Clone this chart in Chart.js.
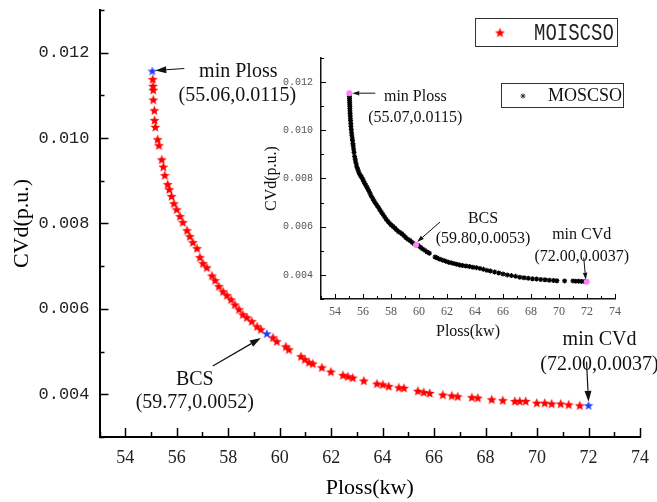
<!DOCTYPE html>
<html><head><meta charset="utf-8">
<script src="https://cdn.jsdelivr.net/npm/chart.js@4.4.0/dist/chart.umd.min.js"></script>
<style>
html,body{margin:0;padding:0;background:#fff;}
#wrap{position:relative;width:657px;height:502px;overflow:hidden;background:#fff;}
#main{position:absolute;left:0;top:0;}
#inset{position:absolute;left:240px;top:50px;}
</style></head><body>
<div id="wrap"><canvas id="main" width="657" height="502"></canvas><canvas id="inset" width="410" height="300"></canvas></div>
<script>
// ---------- DATA ----------
const mainX = [55.07,55.08,55.09,55.09,55.13,55.14,55.17,55.26,55.31,55.42,55.48,55.54,55.65,55.71,55.80,55.89,56.00,56.13,56.24,56.40,56.51,56.63,56.79,56.90,57.02,57.17,57.37,57.49,57.64,57.80,57.95,58.11,58.26,58.42,58.57,58.73,58.92,59.12,59.27,59.74,59.89,60.24,60.36,60.83,60.98,61.14,61.29,61.64,61.99,62.46,62.65,62.84,63.27,63.78,64.01,64.24,64.63,64.83,65.37,65.60,65.83,66.34,66.69,66.92,67.47,67.70,68.24,68.67,69.14,69.33,69.56,69.99,70.30,70.57,70.92,71.23,71.66];
const mainY = [0.01137,0.01121,0.01112,0.01089,0.01064,0.01041,0.01025,0.00996,0.00982,0.00949,0.00932,0.00912,0.00891,0.00879,0.00863,0.00846,0.00832,0.00816,0.00802,0.00783,0.00769,0.00755,0.00741,0.00720,0.00706,0.00696,0.00677,0.00666,0.00652,0.00640,0.00631,0.00621,0.00609,0.00598,0.00586,0.00579,0.00570,0.00558,0.00551,0.00532,0.00523,0.00511,0.00504,0.00488,0.00481,0.00474,0.00471,0.00462,0.00452,0.00444,0.00441,0.00438,0.00431,0.00424,0.00422,0.00418,0.00415,0.00414,0.00407,0.00404,0.00402,0.00398,0.00396,0.00394,0.00392,0.00391,0.00387,0.00385,0.00383,0.00383,0.00383,0.00379,0.00379,0.00377,0.00377,0.00375,0.00373];
const mainSpecialX = [55.05, 59.50, 72.00];
const mainSpecialY = [0.01156, 0.00541, 0.00373];
const mainSpecialText = [['min Ploss','(55.06,0.0115)'],['BCS','(59.77,0.0052)'],['min CVd','(72.00,0.0037)']];

const insetX = [55.03,55.03,55.04,55.04,55.05,55.05,55.06,55.06,55.07,55.08,55.09,55.10,55.11,55.13,55.14,55.16,55.18,55.20,55.23,55.25,55.28,55.30,55.33,55.36,55.40,55.44,55.48,55.53,55.58,55.64,55.70,55.77,55.84,55.90,55.98,56.05,56.12,56.20,56.28,56.36,56.44,56.52,56.60,56.70,56.80,56.90,57.00,57.10,57.20,57.32,57.42,57.54,57.66,57.78,57.90,58.02,58.15,58.28,58.40,58.52,58.65,58.78,58.92,59.05,59.20,59.35,59.50,59.65,59.95,60.10,60.25,60.42,60.58,60.74,61.15,61.30,61.50,61.70,61.90,62.10,62.30,62.50,62.70,62.90,63.10,63.35,63.60,63.85,64.10,64.35,64.60,64.85,65.10,65.40,65.70,66.00,66.30,66.60,66.90,67.20,67.50,67.80,68.10,68.40,68.70,69.00,69.30,69.60,69.85,70.40,71.00,71.20,71.40,71.60,71.80];
const insetY = [0.01148,0.01140,0.01132,0.01124,0.01116,0.01108,0.01099,0.01090,0.01080,0.01070,0.01060,0.01050,0.01040,0.01028,0.01016,0.01004,0.00992,0.00980,0.00968,0.00958,0.00945,0.00935,0.00922,0.00908,0.00892,0.00880,0.00868,0.00856,0.00845,0.00836,0.00826,0.00817,0.00810,0.00805,0.00797,0.00788,0.00780,0.00772,0.00764,0.00755,0.00746,0.00736,0.00726,0.00716,0.00706,0.00697,0.00688,0.00680,0.00670,0.00660,0.00651,0.00641,0.00631,0.00622,0.00614,0.00607,0.00601,0.00594,0.00587,0.00580,0.00576,0.00571,0.00563,0.00555,0.00548,0.00543,0.00535,0.00529,0.00522,0.00515,0.00508,0.00502,0.00495,0.00490,0.00474,0.00470,0.00465,0.00461,0.00457,0.00453,0.00450,0.00447,0.00444,0.00441,0.00439,0.00437,0.00435,0.00432,0.00430,0.00427,0.00423,0.00419,0.00416,0.00412,0.00408,0.00404,0.00400,0.00397,0.00394,0.00390,0.00388,0.00386,0.00384,0.00383,0.00381,0.00380,0.00378,0.00377,0.00376,0.00375,0.00375,0.00374,0.00374,0.00373,0.00373];
const insetSpecialX = [55.02, 59.79, 71.98];
const insetSpecialY = [0.01154, 0.00524, 0.00372];
const insetSpecialText = [['min Ploss','(55.07,0.0115)'],['BCS','(59.80,0.0053)'],['min CVd','(72.00,0.0037)']];

const xMin = 53, xMax = 74, xStep = 1;
const yMin = 0.003, yMax = 0.013, yStep = 0.001;
const mainLegendLabel = 'MOISCSO';
const insetLegendLabel = 'MOSCSO';

// ---------- STYLE HELPERS ----------
function makeStar(color, r, inner){
  const c = document.createElement('canvas');
  const s = Math.ceil(r*2+2); c.width = s; c.height = s;
  const g = c.getContext('2d');
  g.fillStyle = color; g.beginPath();
  for (let i=0;i<10;i++){
    const rr = (i%2===0)? r : inner;
    const a = -Math.PI/2 + i*Math.PI/5;
    const px = s/2 + rr*Math.cos(a), py = s/2 + rr*Math.sin(a);
    if(i===0) g.moveTo(px,py); else g.lineTo(px,py);
  }
  g.closePath(); g.fill();
  return c;
}
const redStar = makeStar('#ff0000', 5.2, 2.3);
const blueStar = makeStar('#1f3cff', 5, 2.1);
const pts = (xs, ys) => xs.map((x,i)=>({x:x, y:ys[i]}));

function arrow(ctx,x1,y1,x2,y2,hl,hw,lw){
  const a=Math.atan2(y2-y1,x2-x1);
  const bx=x2-hl*Math.cos(a), by=y2-hl*Math.sin(a);
  ctx.lineWidth=lw; ctx.beginPath(); ctx.moveTo(x1,y1); ctx.lineTo(bx,by); ctx.stroke();
  ctx.beginPath(); ctx.moveTo(x2,y2);
  ctx.lineTo(bx+hw/2*Math.sin(a), by-hw/2*Math.cos(a));
  ctx.lineTo(bx-hw/2*Math.sin(a), by+hw/2*Math.cos(a));
  ctx.closePath(); ctx.fill();
}
function inTicks(chart, maj, min, lw){
  const {ctx, chartArea:a, scales:{x,y}} = chart;
  ctx.save(); ctx.strokeStyle='#000'; ctx.lineWidth=lw;
  x.ticks.forEach(t=>{
    const p=Math.round(x.getPixelForValue(t.value))+0.5;
    const L=(Math.round(t.value)%2===0)?maj:min;
    ctx.beginPath(); ctx.moveTo(p,a.bottom); ctx.lineTo(p,a.bottom-L); ctx.stroke();
  });
  y.ticks.forEach(t=>{
    const p=Math.round(y.getPixelForValue(t.value))+0.5;
    const L=(Math.round(t.value*1000)%2===0)?maj:min;
    ctx.beginPath(); ctx.moveTo(a.left,p); ctx.lineTo(a.left+L,p); ctx.stroke();
  });
  ctx.restore();
}
function annotate(chart, dsIndex, texts, layout, font, hl, hw, lw){
  const ctx=chart.ctx; const meta=chart.getDatasetMeta(dsIndex);
  ctx.save(); ctx.fillStyle='#111'; ctx.strokeStyle='#111';
  ctx.font=font; ctx.textAlign='center'; ctx.textBaseline='middle';
  meta.data.forEach((el,i)=>{
    const L=layout[i]; const px=el.x, py=el.y;
    ctx.fillText(texts[i][0], px+L[0], py+L[1]);
    ctx.fillText(texts[i][1], px+L[2], py+L[3]);
    arrow(ctx, px+L[4], py+L[5], px+L[6], py+L[7], hl, hw, lw);
  });
  ctx.restore();
}
const tickCbX = v => (Math.round(v)%2===0 ? String(Math.round(v)) : '');
const tickCbY = v => { const k=Math.round(v*1000); return k%2===0 ? (k/1000).toFixed(3) : ''; };
const fitX = h => s => { s.height=h; s.paddingLeft=0; s.paddingRight=0; s.paddingTop=0; s.paddingBottom=0; };
const fitY = w => s => { s.width=w; s.paddingLeft=0; s.paddingRight=0; s.paddingTop=0; s.paddingBottom=0; };

// ---------- MAIN CHART ----------
const mainLayout = [
  [86,0, 85,24.5, 32,-3, 3,-1],
  [-72,46, -72,69, -54,32, -6,4],
  [11,-66, 11,-41, -2,-44, 0,-4]
];
const mainDecor = {
  id:'mainDecor',
  afterDraw(chart){
    inTicks(chart, 9, 5, 1.5);
    annotate(chart, 0, mainSpecialText, mainLayout, '20px "Liberation Serif"', 11, 7, 1.2);
    const ctx=chart.ctx; ctx.save();
    ctx.fillStyle='#fff'; ctx.fillRect(475,18,142,28);
    ctx.strokeStyle='#333'; ctx.lineWidth=1; ctx.strokeRect(475.5,18.5,142,28);
    ctx.drawImage(redStar, 500-redStar.width/2, 33-redStar.height/2);
    ctx.fillStyle='#222'; ctx.font='19px "Liberation Mono"'; ctx.textAlign='left'; ctx.textBaseline='middle';
    ctx.translate(534,33); ctx.scale(1,1.3); ctx.fillText(mainLegendLabel,0,0);
    ctx.restore();
  }
};
new Chart(document.getElementById('main'), {
  type:'scatter',
  data:{datasets:[
    {label:'special', data:pts(mainSpecialX, mainSpecialY), pointStyle:blueStar, pointRadius:5},
    {label:mainLegendLabel, data:pts(mainX, mainY), pointStyle:redStar, pointRadius:5}
  ]},
  options:{
    responsive:false, animation:false, devicePixelRatio:1,
    layout:{padding:{left:0,right:17,top:10,bottom:0}},
    plugins:{legend:{display:false}, tooltip:{enabled:false}},
    scales:{
      x:{type:'linear', min:xMin, max:xMax, afterFit:fitX(65),
        ticks:{stepSize:xStep, autoSkip:false, maxRotation:0, padding:10, color:'#222', font:{family:'Liberation Serif', size:18}, callback:tickCbX},
        grid:{display:false, drawTicks:false}, border:{display:true, color:'#000', width:2},
        title:{display:true, text:'Ploss(kw)', color:'#000', font:{family:'Liberation Serif', size:22}, padding:{top:0,bottom:1}}},
      y:{type:'linear', min:yMin, max:yMax, afterFit:fitY(99.5),
        ticks:{stepSize:yStep, autoSkip:false, padding:10, color:'#222', font:{family:'Liberation Mono', size:17}, callback:tickCbY},
        grid:{display:false, drawTicks:false}, border:{display:true, color:'#000', width:2},
        title:{display:true, text:'CVd(p.u.)', color:'#000', font:{family:'Liberation Serif', size:22}, padding:{top:9,bottom:0}}}
    }
  },
  plugins:[mainDecor]
});

// ---------- INSET CHART ----------
const insetLayout = [
  [66,4, 66,25, 26,0, 3,0],
  [67,-26, 67,-6, 24,-23, 1,-3],
  [-5,-47, -5,-25, -3,-24, -1,-2]
];
const insetDecor = {
  id:'insetDecor',
  afterDraw(chart){
    inTicks(chart, 5, 3, 1);
    annotate(chart, 0, insetSpecialText, insetLayout, '16px "Liberation Serif"', 7, 4.5, 1);
    const ctx=chart.ctx; ctx.save();
    ctx.fillStyle='#fff'; ctx.fillRect(261,33,122,24);
    ctx.strokeStyle='#333'; ctx.lineWidth=1; ctx.strokeRect(261.5,33.5,122,24);
    Chart.helpers.drawPoint(ctx, {pointStyle:'star', radius:2.5, borderWidth:1.2, rotation:0}, 283, 46);
    ctx.fillStyle='#111'; ctx.font='18px "Liberation Serif"'; ctx.textAlign='left'; ctx.textBaseline='middle';
    ctx.fillText(insetLegendLabel, 308, 46);
    ctx.restore();
  }
};
new Chart(document.getElementById('inset'), {
  type:'scatter',
  data:{datasets:[
    {label:'special', data:pts(insetSpecialX, insetSpecialY), pointStyle:'star', pointRadius:3, borderWidth:2, borderColor:'#ff80ff', backgroundColor:'#ff80ff'},
    {label:insetLegendLabel, data:pts(insetX, insetY), pointStyle:'star', pointRadius:2.5, borderWidth:1.2, borderColor:'#000', backgroundColor:'#000'}
  ]},
  options:{
    responsive:false, animation:false, devicePixelRatio:1,
    layout:{padding:{left:0,right:35,top:8,bottom:0}},
    plugins:{legend:{display:false}, tooltip:{enabled:false}},
    scales:{
      x:{type:'linear', min:xMin, max:xMax, afterFit:fitX(51),
        ticks:{stepSize:xStep, autoSkip:false, maxRotation:0, padding:6, color:'#555', font:{family:'Liberation Serif', size:12}, callback:tickCbX},
        grid:{display:false, drawTicks:false}, border:{display:true, color:'#111', width:1.5},
        title:{display:true, text:'Ploss(kw)', color:'#111', font:{family:'Liberation Serif', size:16}, padding:{top:0,bottom:9}}},
      y:{type:'linear', min:yMin, max:yMax, afterFit:fitY(81),
        ticks:{stepSize:yStep, autoSkip:false, padding:8, color:'#555', font:{family:'Liberation Mono', size:10}, callback:tickCbY},
        grid:{display:false, drawTicks:false}, border:{display:true, color:'#111', width:1.5},
        title:{display:true, text:'CVd(p.u.)', color:'#111', font:{family:'Liberation Serif', size:16}, padding:{top:22,bottom:0}}}
    }
  },
  plugins:[insetDecor]
});
</script>
</body></html>
